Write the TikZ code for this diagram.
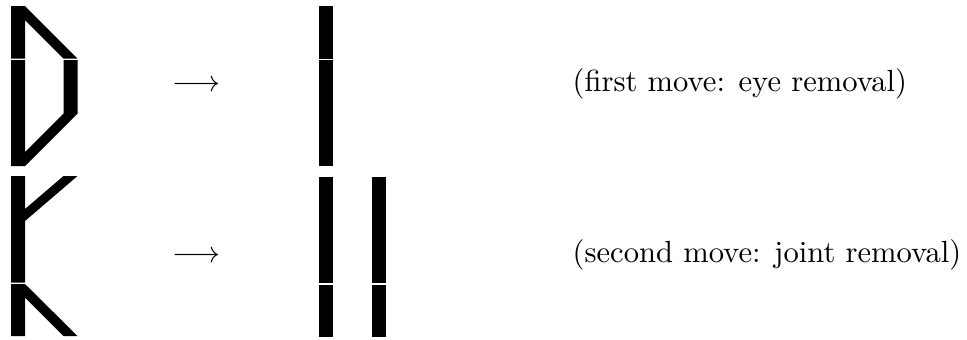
\documentclass[tikz,border=0pt]{standalone}
\begin{document}
\begin{tikzpicture}[x=0.3333pt,y=-0.3333pt,
  piece/.style={fill=black,draw=none},
  lbl/.style={inner sep=0pt,anchor=base west,font=\fontsize{10.2}{12}\selectfont},
  arr/.style={inner sep=0pt,anchor=base east,font=\fontsize{10.2}{12}\selectfont}]
\useasboundingbox (0,0) rectangle (967,339);
% first move, left
\fill[piece] (11,6) -- (25,6) -- (77.5,58.5) -- (63.5,58.5) -- (25,20) -- (25,58.5) -- (11,58.5) -- cycle;
\fill[piece] (11,60) -- (25,60) -- (25,152) -- (63.5,113.5) -- (63.5,60) -- (77.5,60) -- (77.5,113.5) -- (25,166) -- (11,166) -- cycle;
% first move, right
\fill[piece] (319,6) rectangle (333,58.5);
\fill[piece] (319,60) rectangle (333,166);
% second move, left
\fill[piece] (11,176) -- (25,176) -- (25,209) -- (63.5,176) -- (77.5,176) -- (25,221) -- (25,282.5) -- (11,282.5) -- cycle;
\fill[piece] (11,284) -- (25,284) -- (77.5,336) -- (63.5,336) -- (25,297.5) -- (25,336) -- (11,336) -- cycle;
% second move, right
\fill[piece] (319,176.5) rectangle (333,283);
\fill[piece] (319,284.5) rectangle (333,336.5);
\fill[piece] (372,176.5) rectangle (386,283);
\fill[piece] (372,284.5) rectangle (386,336.5);
% arrows
\node[arr] (a1) at (221,91.5) {$\longrightarrow$};
\node[arr] (a2) at (221,262.5) {$\longrightarrow$};
% labels
\node[lbl] (t1) at (572,91.5) {(first move: eye removal)};
\node[lbl] (t2) at (572,262.5) {(second move: joint removal)};
\end{tikzpicture}
\end{document}
